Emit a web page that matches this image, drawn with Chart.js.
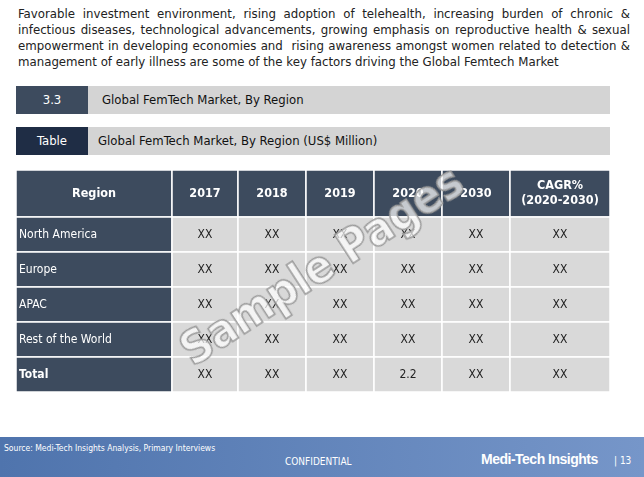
<!DOCTYPE html>
<html><head>
<script src="https://cdn.jsdelivr.net/npm/chart.js"></script>
<style>
body{margin:0;width:644px;height:477px;background:#fff;font-family:"DejaVu Sans Condensed",sans-serif;position:relative;overflow:hidden}
.txt{position:absolute;left:18px;top:6px;width:612px;font-size:13.1px;color:#222;line-height:16px;text-align:justify}
.band{position:absolute;left:16px;width:594px;height:28px;background:#d4d4d4}
.lab{position:absolute;left:0;top:0;width:72px;height:28px;color:#fff;font-size:13px;text-align:center;line-height:28px}
.ttl{position:absolute;left:86px;top:0;line-height:28px;font-size:13px;color:#111}
#wrap{position:absolute;left:16px;top:170px;width:594px;height:222px}
.foot{position:absolute;left:0;top:437px;width:644px;height:40px;background:linear-gradient(90deg,#4f74ad,#7696c9)}
</style></head><body>
<div class="txt">Favorable investment environment, rising adoption of telehealth, increasing burden of chronic &amp; infectious diseases, technological advancements, growing emphasis on reproductive health &amp; sexual empowerment in developing economies and&nbsp; rising awareness amongst women related to detection &amp; management of early illness are some of the key factors driving the Global Femtech Market</div>
<div class="band" style="top:86px"><div class="lab" style="background:#3d4b5e">3.3</div><div class="ttl">Global FemTech Market, By Region</div></div>
<div class="band" style="top:127px"><div class="lab" style="background:#1f2d45">Table</div><div class="ttl" style="left:82px">Global FemTech Market, By Region (US$ Million)</div></div>
<div id="wrap"><canvas id="c" width="594" height="222"></canvas></div>
<div style="position:absolute;left:158px;top:238px;transform:rotate(-33deg);transform-origin:center;font-size:46px;font-weight:bold;color:rgba(255,255,255,0.7);-webkit-text-stroke:1.5px #999;font-family:'DejaVu Sans Condensed'">Sample Pages</div>
<div class="foot">
<div style="position:absolute;left:4px;top:6px;font-size:8.5px;color:#fff">Source: Medi-Tech Insights Analysis, Primary Interviews</div>
<div style="position:absolute;left:285px;top:19px;font-size:10px;color:#fff">CONFIDENTIAL</div>
<div style="position:absolute;left:481px;top:14px;font-size:14px;font-weight:bold;color:#fff;letter-spacing:-0.5px;font-family:'Liberation Sans'">Medi-Tech Insights</div>
<div style="position:absolute;left:614px;top:18px;font-size:10px;color:#fff">| 13</div>
</div>
<script>
const headers=["Region","2017","2018","2019","2020","2030","CAGR%\n(2020-2030)"];
const regions=["North America","Europe","APAC","Rest of the World","Total"];
const cells=[["XX","XX","XX","XX","XX","XX"],["XX","XX","XX","XX","XX","XX"],["XX","XX","XX","XX","XX","XX"],["XX","XX","XX","XX","XX","XX"],["XX","XX","XX","2.2","XX","XX"]];
const colEdges=[0,156,222,290,358,426,494,594];
const rowEdges=[0,47,82,117,152,187,222];
const tablePlugin={id:'tbl',afterDraw(ch){
 const x=ch.ctx;x.save();
 for(let r=0;r<6;r++)for(let c=0;c<7;c++){
  const x0=colEdges[c],x1=colEdges[c+1],y0=rowEdges[r],y1=rowEdges[r+1];
  x.fillStyle=(r==0||c==0)?'#3d4b5e':'#d9d9d9';x.fillRect(x0,y0,x1-x0,y1-y0);
  x.strokeStyle='#fff';x.lineWidth=1.5;x.strokeRect(x0,y0,x1-x0,y1-y0);
  let t=r==0?headers[c]:(c==0?regions[r-1]:cells[r-1][c-1]);
  x.fillStyle=(r==0||c==0)?'#fff':'#222';
  x.font=((r==0||(r==5&&c==0))?'bold ':'')+(r==0?'12.5px':'12px')+' "DejaVu Sans Condensed"';
  x.textBaseline='middle';
  if(c==0&&r>0){x.textAlign='left';x.fillText(t,x0+3,(y0+y1)/2);}
  else{x.textAlign='center';const ls=t.split('\n');ls.forEach((l,i)=>x.fillText(l,(x0+x1)/2,(y0+y1)/2+(i-(ls.length-1)/2)*15));}
 }
 x.restore();}};
new Chart(document.getElementById('c'),{type:'bar',data:{labels:regions,datasets:[{data:[]}]},
options:{responsive:false,animation:false,plugins:{legend:{display:false},tooltip:{enabled:false}},scales:{x:{display:false},y:{display:false}}},plugins:[tablePlugin]});
</script>
</body></html>
